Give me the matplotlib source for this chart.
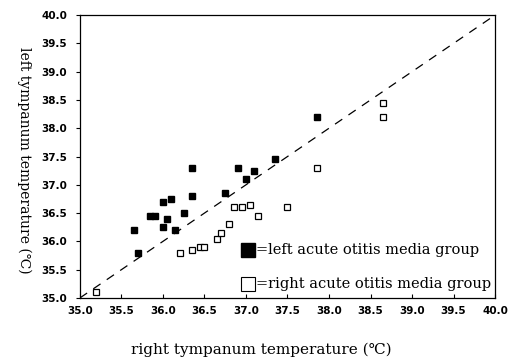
import numpy as np
import matplotlib.pyplot as plt

# left acute otitis media group (filled squares)
left_x = [35.65, 35.70, 35.85, 35.90, 36.00, 36.00, 36.05, 36.10, 36.15, 36.25,
          36.35, 36.35, 36.75, 36.90, 37.00, 37.10, 37.35, 37.85]
left_y = [36.20, 35.80, 36.45, 36.45, 36.70, 36.25, 36.40, 36.75, 36.20, 36.50,
          37.30, 36.80, 36.85, 37.30, 37.10, 37.25, 37.45, 38.20]

# right acute otitis media group (open squares)
right_x = [35.20, 36.20, 36.35, 36.45, 36.50, 36.65, 36.70, 36.80, 36.85, 36.95,
           37.05, 37.15, 37.50, 37.85, 38.65, 38.65]
right_y = [35.10, 35.80, 35.85, 35.90, 35.90, 36.05, 36.15, 36.30, 36.60, 36.60,
           36.65, 36.45, 36.60, 37.30, 38.45, 38.20]

ticks = np.arange(35.0, 40.01, 0.5)
serif = ['DejaVu Serif']

fig = plt.figure(figsize=(5.12, 3.59), dpi=100)
ax = fig.add_axes([0.156, 0.170, 0.811, 0.788])

ax.plot([35, 40], [35, 40], color='k', lw=0.9, dashes=(7, 6))
ax.plot(left_x, left_y, 's', color='k', ms=5, ls='none')
ax.plot(right_x, right_y, 's', mfc='white', mec='k', mew=0.9, ms=4.5, ls='none')

ax.set_xlim(35, 40)
ax.set_ylim(35, 40)
ax.set_xticks(ticks)
ax.set_yticks(ticks)
ax.set_xticklabels([f"{t:.1f}" for t in ticks], fontsize=7.5, fontweight='bold')
ax.set_yticklabels([f"{t:.1f}" for t in ticks], fontsize=7.5, fontweight='bold')
ax.tick_params(axis='x', direction='in', length=3, pad=6)
ax.tick_params(axis='y', direction='out', length=3, pad=6)
for s in ax.spines.values():
    s.set_linewidth(0.9)

fig.text(0.51, 0.025, "right tympanum temperature (℃)", family=serif, fontsize=11,
         ha='center', va='center')
fig.text(0.047, 0.554, "left tympanum temperature (℃)", family=serif, fontsize=10,
         rotation=-90, ha='center', va='center')

# legend drawn as text with square markers
ax.plot([0.404], [0.168], 's', color='k', ms=10, transform=ax.transAxes, clip_on=False)
ax.text(0.425, 0.168, "=left acute otitis media group", transform=ax.transAxes,
        family=serif, fontsize=10.5, va='center', ha='left')
ax.plot([0.404], [0.048], 's', mfc='white', mec='k', mew=0.8, ms=10,
        transform=ax.transAxes, clip_on=False)
ax.text(0.425, 0.048, "=right acute otitis media group", transform=ax.transAxes,
        family=serif, fontsize=10.5, va='center', ha='left')

fig.savefig("out.png", dpi=100)
